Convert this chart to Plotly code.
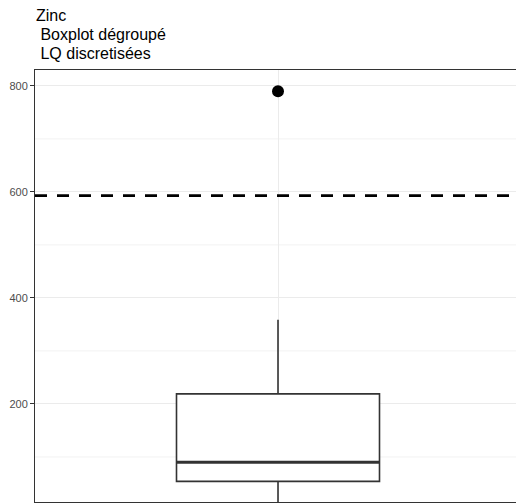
import plotly.graph_objects as go

# Data
category = ["Zinc"]
q1 = [54]
median = [90]
q3 = [219]
lower_fence = [10]
upper_fence = [359]
outliers = [790]
lq_threshold = 593
y_ticks = [200, 400, 600, 800]
y_minor = [100, 300, 500, 700]
title_lines = ["Zinc", " Boxplot dégroupé", " LQ discretisées"]

# style constants (pixels on the x scale)
BOX_W = 203
CENTER = 0

fig = go.Figure()

# minor gridlines
for v in y_minor:
    fig.add_hline(y=v, line=dict(color="#F2F2F2", width=1), layer="below")

fig.add_trace(go.Box(
    x=[CENTER], q1=q1, median=median, q3=q3,
    lowerfence=lower_fence, upperfence=upper_fence,
    width=BOX_W, whiskerwidth=0,
    fillcolor="white", line=dict(color="#333333", width=1.6),
    boxpoints=False, showlegend=False, hoverinfo="skip",
))
# thicker median line
fig.add_trace(go.Scatter(
    x=[CENTER - BOX_W / 2, CENTER + BOX_W / 2], y=[median[0], median[0]],
    mode="lines", line=dict(color="#333333", width=3.2),
    showlegend=False, hoverinfo="skip",
))
# outliers
fig.add_trace(go.Scatter(
    x=[CENTER] * len(outliers), y=outliers, mode="markers",
    marker=dict(color="black", size=12), showlegend=False, hoverinfo="skip",
))
# LQ threshold
fig.add_hline(y=lq_threshold, line=dict(color="black", width=2.6, dash="12px,10px"))

title_shifts = [54.5, 36, 17]
annotations = [
    dict(text=t, xref="paper", yref="paper", x=0, y=1, xanchor="left", yanchor="middle",
         yshift=s, xshift=-1, align="left", showarrow=False,
         font=dict(size=16, color="black", family="Liberation Sans, Arial, sans-serif"))
    for t, s in zip(title_lines, title_shifts)
]

# panel continues a few pixels past the right edge of the window (cropped like the reference)
fig.update_layout(
    width=522, height=503,
    margin=dict(l=35, r=0, t=70, b=1),
    paper_bgcolor="white", plot_bgcolor="white",
    font=dict(family="Liberation Sans, Arial, sans-serif"),
    annotations=annotations,
)
fig.update_xaxes(
    range=[-243, 244], showticklabels=False, ticks="", automargin=False,
    tickvals=[CENTER], showgrid=True, gridcolor="#EBEBEB", gridwidth=1.2,
    zeroline=False, showline=True, linecolor="#333333", linewidth=1, mirror=True,
)
fig.update_yaxes(
    range=[15, 830], tickvals=y_ticks, ticktext=[str(v) for v in y_ticks],
    ticks="outside", ticklen=4, tickcolor="#333333", tickwidth=1, automargin=False,
    tickfont=dict(size=11, color="#4D4D4D"),
    showgrid=True, gridcolor="#EBEBEB", gridwidth=1.2, zeroline=False,
    showline=True, linecolor="#333333", linewidth=1, mirror=False,
)

fig.write_html(
    "out.html",
    config={"displayModeBar": False},
    post_script="document.body.style.margin='0';document.body.style.overflow='hidden';",
)
